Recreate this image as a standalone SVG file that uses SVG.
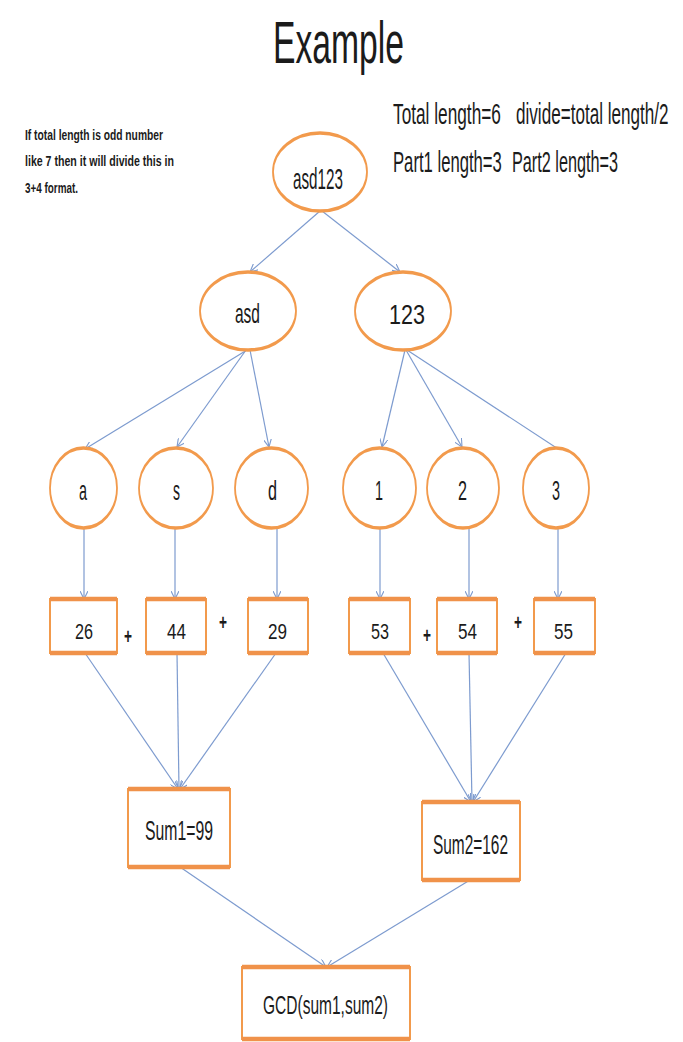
<svg xmlns="http://www.w3.org/2000/svg" width="683" height="1042" viewBox="0 0 683 1042">
  <style>
    .t { font-family: "Liberation Sans", Arial, sans-serif; fill: #1b1b1b; }
    .note { font-weight: bold; font-size: 15px; }
    .info { font-size: 29px; }
    .lbl { font-size: 28px; }
    .num { font-size: 22px; }
    .plus { font-size: 22px; font-weight: bold; }
    .ell { fill: #ffffff; stroke: #f29a4c; stroke-width: 3.6; }
    .box { fill: #ffffff; stroke: #f29a4c; stroke-width: 2; }
    .bar { fill: none; stroke: #f0924a; stroke-width: 4.5; }
    .edge { fill: none; stroke: #7d9bcf; stroke-width: 1.2; marker-end: url(#arrow); }
  </style>
  <defs>
    <marker id="arrow" viewBox="0 0 10 10" refX="10" refY="5" markerWidth="8" markerHeight="8" markerUnits="userSpaceOnUse" orient="auto">
      <path d="M0,0 L10,5 L0,10" fill="none" stroke="#7d9bcf" stroke-width="1.4"/>
    </marker>
  </defs>

  <rect width="683" height="1042" fill="#ffffff"/>

  <!-- heading and side notes -->
  <text class="t" x="273" y="63" font-size="60" textLength="131" lengthAdjust="spacingAndGlyphs">Example</text>
  <g id="note">
    <text class="t note" x="25" y="140" textLength="138" lengthAdjust="spacingAndGlyphs">If total length is odd number</text>
    <text class="t note" x="25" y="166" textLength="149" lengthAdjust="spacingAndGlyphs">like 7 then it will divide this in</text>
    <text class="t note" x="25" y="193" textLength="53" lengthAdjust="spacingAndGlyphs">3+4 format.</text>
  </g>
  <!-- length info, condensed horizontally -->
  <g id="info">
    <text class="t info" transform="translate(393 124) scale(0.595 1)">Total length=6</text>
    <text class="t info" transform="translate(516 124) scale(0.59 1)">divide=total length/2</text>
    <text class="t info" transform="translate(393 172) scale(0.575 1)">Part1 length=3</text>
    <text class="t info" transform="translate(512 172) scale(0.56 1)">Part2 length=3</text>
  </g>

  <!-- connectors -->
  <g id="connectors">
    <line class="edge" x1="320" y1="211" x2="250" y2="272"/>
    <line class="edge" x1="322" y1="211" x2="400" y2="272"/>
    <line class="edge" x1="247" y1="350" x2="85" y2="449"/>
    <line class="edge" x1="246" y1="350" x2="177" y2="447"/>
    <line class="edge" x1="250" y1="350" x2="269" y2="447"/>
    <line class="edge" x1="405" y1="350" x2="382" y2="447"/>
    <line class="edge" x1="406" y1="350" x2="462" y2="447"/>
    <line class="edge" x1="407" y1="350" x2="578" y2="462"/>
    <line class="edge" x1="84" y1="528" x2="84" y2="599"/>
    <line class="edge" x1="175" y1="528" x2="175" y2="599"/>
    <line class="edge" x1="277" y1="528" x2="277" y2="599"/>
    <line class="edge" x1="380" y1="528" x2="380" y2="599"/>
    <line class="edge" x1="469" y1="528" x2="469" y2="599"/>
    <line class="edge" x1="558" y1="528" x2="558" y2="599"/>
    <line class="edge" x1="85" y1="653" x2="178" y2="789"/>
    <line class="edge" x1="177" y1="653" x2="179" y2="789"/>
    <line class="edge" x1="276" y1="653" x2="180" y2="789"/>
    <line class="edge" x1="383" y1="653" x2="471" y2="802"/>
    <line class="edge" x1="469" y1="653" x2="472" y2="802"/>
    <line class="edge" x1="566" y1="653" x2="473" y2="802"/>
    <line class="edge" x1="180" y1="867" x2="326" y2="967"/>
    <line class="edge" x1="470" y1="880" x2="327" y2="967"/>
  </g>

  <!-- string nodes (ellipses squeezed horizontally so the sides read thinner) -->
  <g id="n-root">
    <ellipse class="ell" rx="94" ry="39" transform="translate(320 172) scale(0.5 1)"/>
    <text class="t" x="293" y="189" font-size="30" textLength="50" lengthAdjust="spacingAndGlyphs">asd123</text>
  </g>
  <g id="n-asd">
    <ellipse class="ell" rx="96" ry="39" transform="translate(248 311) scale(0.5 1)"/>
    <text class="t lbl" x="235" y="323" textLength="25" lengthAdjust="spacingAndGlyphs">asd</text>
  </g>
  <g id="n-123">
    <ellipse class="ell" rx="96" ry="39" transform="translate(403 311) scale(0.5 1)"/>
    <text class="t lbl" x="389" y="324" textLength="36" lengthAdjust="spacingAndGlyphs">123</text>
  </g>
  <g id="n-a">
    <ellipse class="ell" rx="67" ry="40" transform="translate(83.5 488) scale(0.5 1)"/>
    <text class="t lbl" x="79" y="500" textLength="8" lengthAdjust="spacingAndGlyphs">a</text>
  </g>
  <g id="n-s">
    <ellipse class="ell" rx="74" ry="40" transform="translate(176 488) scale(0.5 1)"/>
    <text class="t lbl" x="173" y="500" textLength="7" lengthAdjust="spacingAndGlyphs">s</text>
  </g>
  <g id="n-d">
    <ellipse class="ell" rx="73" ry="40" transform="translate(271.5 488) scale(0.5 1)"/>
    <text class="t lbl" x="268" y="500" textLength="9" lengthAdjust="spacingAndGlyphs">d</text>
  </g>
  <g id="n-1">
    <ellipse class="ell" rx="73" ry="40" transform="translate(379.5 488) scale(0.5 1)"/>
    <text class="t lbl" x="375" y="500" textLength="8" lengthAdjust="spacingAndGlyphs">1</text>
  </g>
  <g id="n-2">
    <ellipse class="ell" rx="72" ry="40" transform="translate(463 488) scale(0.5 1)"/>
    <text class="t lbl" x="458" y="500" textLength="9" lengthAdjust="spacingAndGlyphs">2</text>
  </g>
  <g id="n-3">
    <ellipse class="ell" rx="66" ry="40" transform="translate(556 488) scale(0.5 1)"/>
    <text class="t lbl" x="552" y="500" textLength="8" lengthAdjust="spacingAndGlyphs">3</text>
  </g>

  <!-- character code boxes -->
  <g id="b-26">
    <rect class="box" x="50" y="599" width="67" height="54"/>
    <path class="bar" d="M50 599 h67 M50 653 h67"/>
    <text class="t num" x="75" y="639" textLength="18" lengthAdjust="spacingAndGlyphs">26</text>
  </g>
  <g id="b-44">
    <rect class="box" x="146" y="599" width="60" height="54"/>
    <path class="bar" d="M146 599 h60 M146 653 h60"/>
    <text class="t num" x="167" y="639" textLength="19" lengthAdjust="spacingAndGlyphs">44</text>
  </g>
  <g id="b-29">
    <rect class="box" x="248" y="599" width="60" height="54"/>
    <path class="bar" d="M248 599 h60 M248 653 h60"/>
    <text class="t num" x="268" y="639" textLength="19" lengthAdjust="spacingAndGlyphs">29</text>
  </g>
  <g id="b-53">
    <rect class="box" x="349" y="599" width="61" height="54"/>
    <path class="bar" d="M349 599 h61 M349 653 h61"/>
    <text class="t num" x="371" y="639" textLength="18" lengthAdjust="spacingAndGlyphs">53</text>
  </g>
  <g id="b-54">
    <rect class="box" x="437" y="599" width="60" height="54"/>
    <path class="bar" d="M437 599 h60 M437 653 h60"/>
    <text class="t num" x="458" y="639" textLength="19" lengthAdjust="spacingAndGlyphs">54</text>
  </g>
  <g id="b-55">
    <rect class="box" x="534" y="599" width="61" height="54"/>
    <path class="bar" d="M534 599 h61 M534 653 h61"/>
    <text class="t num" x="554" y="639" textLength="19" lengthAdjust="spacingAndGlyphs">55</text>
  </g>

  <!-- plus signs between the codes -->
  <g id="plus-signs">
    <text class="t plus" x="124" y="644" textLength="8" lengthAdjust="spacingAndGlyphs">+</text>
    <text class="t plus" x="219" y="630" textLength="8" lengthAdjust="spacingAndGlyphs">+</text>
    <text class="t plus" x="423" y="643" textLength="8" lengthAdjust="spacingAndGlyphs">+</text>
    <text class="t plus" x="514" y="630" textLength="8" lengthAdjust="spacingAndGlyphs">+</text>
  </g>

  <!-- sums and result -->
  <g id="b-sum1">
    <rect class="box" x="128" y="789" width="102" height="78"/>
    <path class="bar" d="M128 789 h102 M128 867 h102"/>
    <text class="t" x="145" y="840" font-size="28" textLength="68" lengthAdjust="spacingAndGlyphs">Sum1=99</text>
  </g>
  <g id="b-sum2">
    <rect class="box" x="422" y="802" width="98" height="78"/>
    <path class="bar" d="M422 802 h98 M422 880 h98"/>
    <text class="t" x="433" y="854" font-size="28" textLength="75" lengthAdjust="spacingAndGlyphs">Sum2=162</text>
  </g>
  <g id="b-gcd">
    <rect class="box" x="242" y="967" width="168" height="72"/>
    <path class="bar" d="M242 967 h168 M242 1039 h168"/>
    <text class="t" x="263" y="1014" font-size="26" textLength="125" lengthAdjust="spacingAndGlyphs">GCD(sum1,sum2)</text>
  </g>
</svg>
